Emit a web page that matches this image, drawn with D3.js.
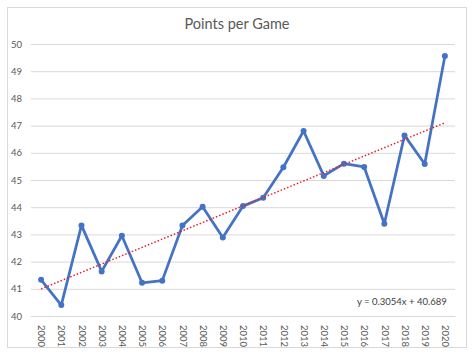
<!DOCTYPE html>
<html>
<head>
<meta charset="utf-8">
<script src="https://cdn.jsdelivr.net/npm/d3@7"></script>
<style>
  body { margin: 0; background: #fff; }
  svg { font-family: Lato, "Open Sans", sans-serif; }
</style>
</head>
<body>
<div id="chart"></div>
<script>
// data
var years = ["2000","2001","2002","2003","2004","2005","2006","2007","2008","2009","2010",
             "2011","2012","2013","2014","2015","2016","2017","2018","2019","2020"];
var points = [41.33, 40.40, 43.33, 41.64, 42.95, 41.22, 41.30, 43.33, 44.02, 42.89, 44.04,
              44.35, 45.47, 46.80, 45.15, 45.60, 45.48, 43.39, 46.64, 45.59, 49.56];
var yTicks = [40, 41, 42, 43, 44, 45, 46, 47, 48, 49, 50];
var trendSlope = 0.3054, trendIntercept = 40.689;
var trendLabel = "y = 0.3054x + 40.689";
var title = "Points per Game";

var W = 474, H = 355;
var margin = {top: 44, right: 19, bottom: 39, left: 31},
    width = W - margin.left - margin.right,
    height = H - margin.top - margin.bottom;

var svg = d3.select("#chart").append("svg")
    .attr("width", W)
    .attr("height", H);

// chart border
svg.append("rect")
    .attr("x", 7.5).attr("y", 7.5)
    .attr("width", 459).attr("height", 340)
    .style("fill", "#fff")
    .style("stroke", "#d9d9d9");

svg.append("text")
    .attr("x", 237).attr("y", 29)
    .attr("text-anchor", "middle")
    .style("font-size", "14.5px")
    .style("fill", "#595959")
    .text(title);

var g = svg.append("g")
    .attr("transform", "translate(" + margin.left + "," + margin.top + ")");

var x = d3.scalePoint()
    .domain(years)
    .range([0, width])
    .padding(0.5);

var y = d3.scaleLinear()
    .domain([40, 50])
    .range([height, 0]);

// gridlines + y labels
var yAxis = g.append("g")
    .call(d3.axisLeft(y).tickValues(yTicks).tickSize(-width).tickFormat(d3.format("d")));
yAxis.select(".domain").remove();
yAxis.selectAll(".tick line").style("stroke", "#d9d9d9");
yAxis.selectAll(".tick text")
    .attr("x", -9)
    .style("font-size", "9.5px")
    .style("fill", "#595959")
    .style("font-family", "Lato, sans-serif");

// x labels, rotated
var xAxis = g.append("g")
    .attr("transform", "translate(0," + height + ")")
    .call(d3.axisBottom(x).tickSize(0));
xAxis.select(".domain").style("stroke", "#d9d9d9");
xAxis.selectAll(".tick text")
    .attr("transform", "rotate(90)")
    .attr("x", 9).attr("y", 0).attr("dy", "0.35em")
    .style("text-anchor", "start")
    .style("font-size", "9.5px")
    .style("fill", "#595959")
    .style("font-family", "Lato, sans-serif");

// series line
var line = d3.line()
    .x(function(d, i){ return x(years[i]); })
    .y(function(d){ return y(d); });

g.append("path")
    .datum(points)
    .attr("d", line)
    .style("fill", "none")
    .style("stroke", "#4472c4")
    .style("stroke-width", "2.75px")
    .style("stroke-linejoin", "round");

g.selectAll("circle.pt")
    .data(points)
    .enter().append("circle")
    .attr("class", "pt")
    .attr("cx", function(d, i){ return x(years[i]); })
    .attr("cy", function(d){ return y(d); })
    .attr("r", 3)
    .style("fill", "#4472c4");

// linear trendline from the displayed equation
var first = 1, last = years.length;
g.append("line")
    .attr("x1", x(years[0])).attr("y1", y(trendSlope * first + trendIntercept))
    .attr("x2", x(years[last - 1])).attr("y2", y(trendSlope * last + trendIntercept))
    .style("stroke", "#e8202a")
    .style("stroke-width", "1.5px")
    .style("stroke-dasharray", "1.5,2");

g.append("text")
    .attr("x", 357 - margin.left).attr("y", 305 - margin.top)
    .style("font-size", "9.5px")
    .style("fill", "#404040")
    .text(trendLabel);
</script>
</body>
</html>
